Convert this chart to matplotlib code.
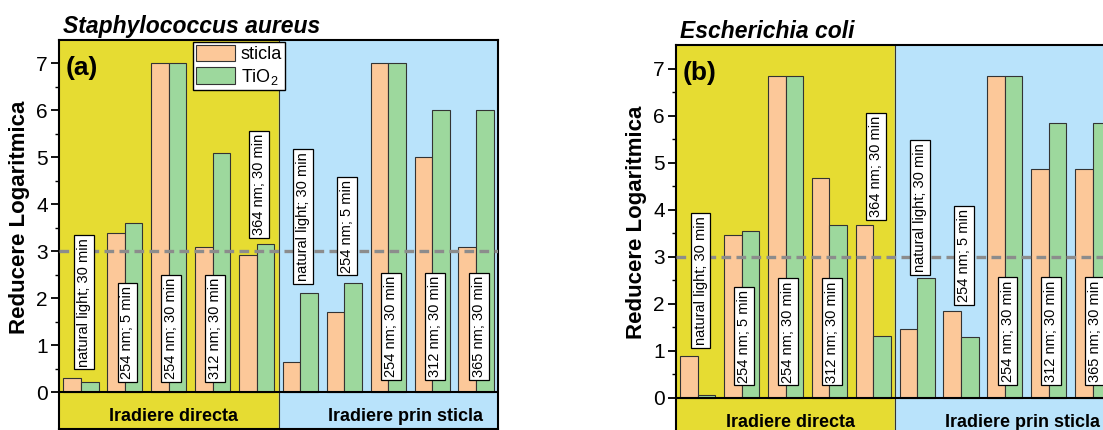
import numpy as np
import matplotlib
matplotlib.use('Agg')
import matplotlib.pyplot as plt

plt.rcParams['font.family'] = 'Liberation Sans'
plt.rcParams['mathtext.fontset'] = 'custom'
plt.rcParams['mathtext.rm'] = 'Liberation Sans'
plt.rcParams['mathtext.it'] = 'Liberation Sans:italic'
plt.rcParams['mathtext.bf'] = 'Liberation Sans:bold'

# irradiation conditions, 5 direct + 5 through glass
conditions = ['natural light; 30 min', '254 nm; 5 min', '254 nm; 30 min',
              '312 nm; 30 min', '364 nm; 30 min',
              'natural light; 30 min', '254 nm; 5 min', '254 nm; 30 min',
              '312 nm; 30 min', '365 nm; 30 min']
zones = ['Iradiere directa', 'Iradiere prin sticla']

# log reduction, S. aureus
sa_sticla = [0.30, 3.40, 7.00, 3.09, 2.93, 0.65, 1.70, 7.00, 5.00, 3.10]
sa_tio2 = [0.22, 3.60, 7.00, 5.10, 3.16, 2.12, 2.32, 7.00, 6.00, 6.00]
# log reduction, E. coli
ec_sticla = [0.89, 3.45, 6.85, 4.67, 3.68, 1.46, 1.85, 6.85, 4.86, 4.86]
ec_tio2 = [0.05, 3.54, 6.85, 3.68, 1.31, 2.55, 1.30, 6.85, 5.85, 5.85]

threshold = 3

# where the condition tags start (bottom edge of the box)
tag_y_sa = [0.49, 0.22, 0.22, 0.22, 3.29, 2.31, 2.49, 0.26, 0.26, 0.26]
tag_y_ec = [1.06, 0.26, 0.26, 0.26, 3.78, 2.61, 1.97, 0.28, 0.28, 0.28]

c_yellow = '#e6dc32'
c_blue = '#b9e3fb'
c_orange = '#fcc899'
c_green = '#9dd89d'

YMIN, YMAX = -0.78, 7.5


def panel(ax, sticla, tio2, tag_y, title, letter, legend=False):
    x = np.arange(len(sticla))
    w = 0.4
    ax.set_xlim(-0.5, len(sticla) - 0.5)
    ax.set_ylim(YMIN, YMAX)

    ax.axvspan(-0.5, 4.5, color=c_yellow, zorder=0)
    ax.axvspan(4.5, 9.5, color=c_blue, zorder=0)
    ax.axvline(4.5, color='#333333', lw=0.8, zorder=1)

    b1 = ax.bar(x - w / 2, sticla, w, color=c_orange, edgecolor='#333333',
                lw=0.8, zorder=2, label='sticla')
    b2 = ax.bar(x + w / 2, tio2, w, color=c_green, edgecolor='#333333',
                lw=0.8, zorder=2, label='TiO$_2$')

    ax.axhline(threshold, color='#8c8c8c', lw=2.4, ls=(0, (2.9, 1.6)), zorder=3)
    ax.axhline(0, color='black', lw=1.5, zorder=4)

    for xi, ty, txt in zip(x, tag_y, conditions):
        ax.text(xi + 0.06, ty + 0.06, txt, rotation=90, ha='center', va='bottom',
                fontsize=10.5, zorder=5,
                bbox=dict(boxstyle='square,pad=0.2', fc='white', ec='black', lw=0.9))

    ax.text(2.1, -0.62, zones[0], ha='center', va='baseline', fontsize=13,
            fontweight='bold', zorder=5)
    ax.text(7.4, -0.62, zones[1], ha='center', va='baseline', fontsize=13,
            fontweight='bold', zorder=5)

    ax.set_yticks(range(8))
    ax.set_yticks(np.arange(0.5, 7.5, 1), minor=True)
    ax.set_xticks([])
    ax.tick_params(axis='y', which='major', direction='out', length=6, width=1.3,
                   labelsize=15, pad=2)
    ax.tick_params(axis='y', which='minor', direction='out', length=3, width=1.0)
    for s in ax.spines.values():
        s.set_linewidth(1.5)

    ax.set_ylabel('Reducere Logaritmica', fontsize=16, fontweight='bold')
    ax.yaxis.set_label_coords(-0.066, 0.545)

    ax.text(0.014, 1 - 28 / 389, letter, transform=ax.transAxes, fontsize=19,
            fontweight='bold', va='center', ha='left', zorder=6)
    ax.text(0.008, 1 + 7 / 389, title, transform=ax.transAxes, fontsize=16.5,
            fontweight='bold', fontstyle='italic', va='baseline', ha='left')

    if legend:
        leg = ax.legend(handles=[b1, b2], loc='upper left', bbox_to_anchor=(0.305, 0.995),
                        fontsize=13, fancybox=False, edgecolor='black', framealpha=1,
                        borderpad=0.15, handlelength=2.2, handleheight=1.05,
                        handletextpad=0.3, labelspacing=0.2, borderaxespad=0)
        leg.get_frame().set_linewidth(1.0)
        leg.set_zorder(7)


fig = plt.figure(figsize=(11.03, 4.30), dpi=100)
ax_a = fig.add_axes([59 / 1103, 1 / 430, 439 / 1103, 389 / 430])
ax_b = fig.add_axes([676 / 1103, -4.3 / 430, 438.5 / 1103, 389.3 / 430])

panel(ax_a, sa_sticla, sa_tio2, tag_y_sa, 'Staphylococcus aureus', '(a)', legend=True)
panel(ax_b, ec_sticla, ec_tio2, tag_y_ec, 'Escherichia coli', '(b)')

fig.savefig('out.png', dpi=100)
